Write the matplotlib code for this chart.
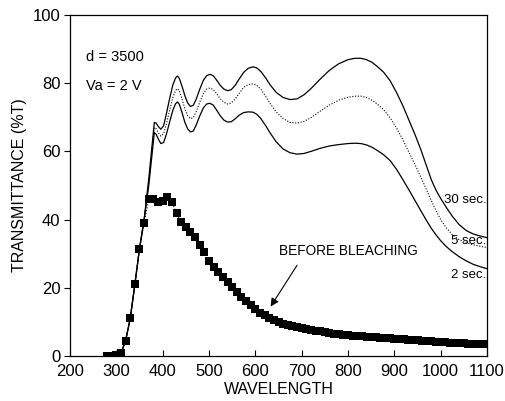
import matplotlib
matplotlib.use("Agg")
import matplotlib.pyplot as plt

plt.rcParams['font.family'] = ['Liberation Sans', 'DejaVu Sans']

# Before bleaching (squares, every 10 nm)
bb_wl = list(range(280, 1101, 10))
bb_T = [0, 0, 0.2, 0.8, 4.5, 11, 21, 31.5, 39, 46,
        46, 45.2, 45.5, 46.6, 45.2, 41.8, 39.3, 37.8, 36.4, 34.9,
        32.5, 30.5, 28, 26.1, 24.6, 23.2, 21.7, 20.2, 18.8, 17.3,
        16, 14.9, 13.8, 12.6, 11.9, 11.2, 10.5, 10, 9.5, 9.1,
        8.7, 8.4, 8.1, 7.8, 7.6, 7.4, 7.2, 7.0, 6.8, 6.6,
        6.5, 6.3, 6.2, 6.0, 5.9, 5.8, 5.7, 5.6, 5.5, 5.4,
        5.3, 5.2, 5.1, 5.0, 4.9, 4.8, 4.7, 4.6, 4.5, 4.4,
        4.3, 4.2, 4.1, 4.0, 3.9, 3.8, 3.75, 3.7, 3.6, 3.55,
        3.5, 3.45, 3.4]

rise_wl = [280, 300, 310, 320, 330, 340, 350, 360]
rise_T = [0, 0.2, 0.8, 4.5, 11, 21, 31.5, 40]

s30_wl = rise_wl + [370, 382, 386, 390, 396, 402, 408, 415, 422, 428, 432, 436, 442, 448, 454, 460,
                    466, 472, 480, 488, 495, 502, 509, 516, 524, 532, 540, 548, 556, 565, 575,
                    585, 595, 603, 612, 622, 632, 645, 660, 675, 690, 705, 720, 740, 760, 780,
                    800, 815, 828, 840, 852, 864, 877, 891, 905, 918, 932, 945, 958, 970, 980,
                    990, 1000, 1012, 1025, 1040, 1055, 1070, 1085, 1100]
s30_T = rise_T + [52, 68.5, 68.3, 67.4, 66.5, 67.5, 71, 75.5, 79.5, 81.6, 82.1, 81.4, 79, 76.3, 74.2, 73.2,
                  73.5, 75.2, 78.2, 80.9, 82.2, 82.6, 82.2, 81, 79.4, 78.3, 77.8, 78.1, 79.3, 81.2, 83.2,
                  84.4, 84.8, 84.5, 83.4, 81.6, 79.5, 77.3, 75.8, 75.2, 75.4, 76.6, 78.4, 81.2, 83.8, 85.7,
                  86.9, 87.3, 87.3, 86.9, 86.1, 84.8, 83.2, 80.7, 77.2, 73.5, 69, 64.8, 60.2, 55.5, 51.6,
                  48.6, 46.2, 43.6, 41, 38.5, 36.8, 35.8, 35.2, 34.7]

s5_wl = rise_wl + [370, 382, 386, 390, 396, 402, 408, 415, 422, 428, 432, 436, 442, 448, 454, 460,
                   466, 472, 480, 488, 495, 502, 509, 516, 524, 532, 540, 548, 556, 565, 575,
                   585, 595, 603, 612, 622, 632, 645, 660, 675, 690, 705, 720, 740, 760, 780,
                   800, 815, 828, 840, 852, 864, 877, 891, 905, 918, 932, 945, 958, 970, 980,
                   990, 1000, 1012, 1025, 1040, 1055, 1070, 1085, 1100]
s5_T = rise_T + [51, 67, 66.6, 65.6, 64.5, 65.2, 68, 72, 75.8, 77.9, 78.4, 77.7, 75.3, 72.5, 70.5, 69.6,
                 69.9, 71.5, 74.4, 77, 78.3, 78.6, 78.2, 77, 75.5, 74.4, 73.9, 74.2, 75.3, 77, 78.8,
                 79.6, 79.8, 79.4, 78.2, 76.2, 74, 71.6, 69.6, 68.5, 68.3, 68.8, 69.9, 71.8, 73.6, 75,
                 75.9, 76.2, 76.2, 75.8, 75, 73.8, 72.2, 69.8, 66.8, 63.5, 59.6, 56, 52.2, 48.6, 45.5,
                 42.6, 40, 37.6, 35.6, 34.1, 33.2, 32.6, 32.2, 31.8]

s2_wl = rise_wl + [370, 382, 386, 390, 396, 402, 408, 415, 422, 428, 432, 436, 442, 448, 454, 460,
                   466, 472, 480, 488, 495, 502, 509, 516, 524, 532, 540, 548, 556, 565, 575,
                   585, 595, 603, 612, 622, 632, 645, 660, 675, 690, 705, 720, 740, 760, 780,
                   800, 815, 828, 840, 852, 864, 877, 891, 905, 918, 932, 945, 958, 970, 980,
                   990, 1000, 1012, 1025, 1040, 1055, 1070, 1085, 1100]
s2_T = rise_T + [50, 65.5, 65, 63.8, 62.3, 62.6, 65, 68.6, 72.1, 74, 74.5, 73.8, 71.3, 68.5, 66.6, 65.7,
                 66, 67.6, 70.4, 72.8, 73.9, 74.1, 73.6, 72.2, 70.5, 69.2, 68.6, 68.7, 69.5, 70.6, 71.4,
                 71.6, 71.5, 70.9, 69.6, 67.6, 65.4, 62.8, 60.7, 59.6, 59.2, 59.4, 60, 60.9, 61.6, 62,
                 62.3, 62.4, 62.3, 61.9, 61.2, 60.2, 59, 57.3, 54.7, 51.8, 48.6, 45.5, 42.4, 39.6, 37.4,
                 35.5, 33.8, 32.1, 30.6, 29.1, 27.9, 26.9, 26.2, 25.6]

x_ticks = list(range(200, 1101, 100))
y_ticks = [0, 20, 40, 60, 80, 100]

fig = plt.figure(figsize=(5.05, 4.01), dpi=100)
ax = fig.add_axes([0.1386, 0.1122, 0.8258, 0.8504])

ax.plot(s30_wl, s30_T, color='black', lw=0.9)
ax.plot(s5_wl, s5_T, color='black', lw=0.8, ls=(0, (1, 1.5)))
ax.plot(s2_wl, s2_T, color='black', lw=0.9)
ax.plot(bb_wl, bb_T, color='black', lw=0.8, ls=':', marker='s', markersize=6,
        markeredgewidth=0)

ax.set_xlim(200, 1100)
ax.set_ylim(0, 100)
ax.set_xticks(x_ticks)
ax.set_yticks(y_ticks)
ax.tick_params(axis='x', direction='in', length=4, labelsize=12, pad=6)
ax.tick_params(axis='y', direction='out', length=4, labelsize=12, pad=3)
for sp in ax.spines.values():
    sp.set_linewidth(0.9)

ax.set_xlabel('WAVELENGTH', fontsize=11.5, labelpad=2)
ax.set_ylabel('TRANSMITTANCE (%T)', fontsize=11.5, labelpad=4)

ax.text(0.038, 0.876, 'd = 3500', transform=ax.transAxes, fontsize=10.5, va='center')
ax.text(0.038, 0.793, 'Va = 2 V', transform=ax.transAxes, fontsize=10.5, va='center')

ax.text(1099, 45.7, '30 sec.', ha='right', va='center', fontsize=9.5)
ax.text(1098, 33.6, '5 sec.', ha='right', va='center', fontsize=9.5)
ax.text(1098, 23.8, '2 sec.', ha='right', va='center', fontsize=9.5)

ax.text(652, 30.7, 'BEFORE BLEACHING', fontsize=9.8, ha='left', va='center')
ax.annotate('', xy=(633, 14.5), xytext=(690, 26.6),
            arrowprops=dict(arrowstyle='-|>', color='black', lw=0.8,
                            mutation_scale=12, shrinkA=0, shrinkB=0))
fig.savefig('out.png', dpi=100)
